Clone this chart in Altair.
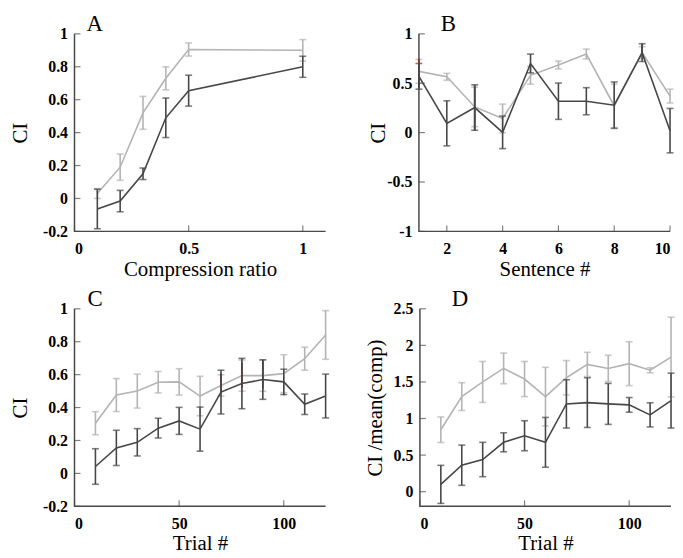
import altair as alt
import pandas as pd

# ---------------- data ----------------
# Panel A
a_x = [0.1, 0.2, 0.3, 0.4, 0.5, 1.0]
a_light = [0.03, 0.19, 0.52, 0.73, 0.905, 0.90]
a_light_err = [0.03, 0.08, 0.10, 0.07, 0.04, 0.065]
a_dark = [-0.064, -0.016, 0.15, 0.49, 0.655, 0.80]
a_dark_err = [0.12, 0.065, 0.035, 0.12, 0.094, 0.064]

# Panel B
b_x = [1, 2, 3, 4, 5, 6, 7, 8, 9, 10]
b_light = [0.62, 0.565, 0.26, 0.144, 0.58, 0.685, 0.796, 0.27, 0.81, 0.37]
b_light_err = [0.12, 0.035, 0.2, 0.145, 0.09, 0.04, 0.05, 0.22, 0.06, 0.07]
b_dark = [0.57, 0.094, 0.254, 0.003, 0.70, 0.318, 0.318, 0.278, 0.81, 0.02]
b_dark_err = [0.13, 0.228, 0.23, 0.165, 0.095, 0.184, 0.137, 0.235, 0.09, 0.225]
b_red_x = [1, 3, 9]
b_red_lo = [0.46, 0.02, 0.81]
b_red_hi = [0.75, 0.48, 0.90]

# Panel C
c_x = [10, 20, 30, 40, 50, 60, 70, 80, 90, 100, 110, 120]
c_light = [0.305, 0.476, 0.50, 0.554, 0.556, 0.47, 0.534, 0.594, 0.594, 0.606, 0.697, 0.841]
c_light_err = [0.07, 0.10, 0.103, 0.065, 0.08, 0.12, 0.065, 0.095, 0.095, 0.115, 0.07, 0.148]
c_dark = [0.042, 0.155, 0.189, 0.275, 0.319, 0.269, 0.494, 0.546, 0.57, 0.556, 0.42, 0.47]
c_dark_err = [0.108, 0.107, 0.083, 0.06, 0.082, 0.134, 0.133, 0.153, 0.12, 0.077, 0.062, 0.133]
c_red_x = [70, 80, 90, 100]
c_red_lo = [0.49, 0.52, 0.515, 0.475]
c_red_hi = [0.607, 0.67, 0.685, 0.485]

# Panel D
d_x = [10, 20, 30, 40, 50, 60, 70, 80, 90, 100, 110, 120]
d_light = [0.847, 1.30, 1.50, 1.685, 1.54, 1.30, 1.558, 1.74, 1.685, 1.75, 1.66, 1.84]
d_light_err = [0.175, 0.19, 0.28, 0.21, 0.24, 0.40, 0.235, 0.165, 0.18, 0.30, 0.035, 0.545]
d_dark = [0.10, 0.362, 0.44, 0.675, 0.765, 0.675, 1.20, 1.218, 1.20, 1.187, 1.05, 1.245]
d_dark_err = [0.26, 0.275, 0.235, 0.13, 0.205, 0.34, 0.33, 0.34, 0.28, 0.10, 0.165, 0.375]

# ---------------- style ----------------
W, H = 253, 199
FONT = "Liberation Serif"
DARK = "#474747"
LIGHT = "#b4b4b4"
RED = "#9a2626"
AXC = "#4a4a4a"
LABEL_EXPR = "datum.value < 0 ? '-' + format(-datum.value, '') : format(datum.value, '')"


def errdf(xs, ys, errs):
    return pd.DataFrame({
        "x": xs, "y": ys,
        "lo": [y - e for y, e in zip(ys, errs)],
        "hi": [y + e for y, e in zip(ys, errs)],
    })


def axis(values, title, extent, tpad, lpad):
    return alt.Axis(values=values, title=title, labelExpr=LABEL_EXPR,
                    minExtent=extent, maxExtent=extent, titlePadding=tpad,
                    domain=False, ticks=False, grid=False, labelPadding=lpad,
                    zindex=0,
                    labelFont=FONT, labelFontSize=16, labelFontWeight="bold",
                    labelColor="#000", titleFont=FONT, titleFontSize=21,
                    titleFontWeight="normal", titleColor="#000")


def panel(letter, title_dx, xs, light, light_err, dark, dark_err,
          xdom, ydom, xticks, yticks, xtitle, ytitle, y_extent, y_tpad,
          red=None):
    xaxis = axis(xticks, xtitle, 26, 1, 9)
    yaxis = axis(yticks, ytitle, y_extent, y_tpad, 7)
    xs_ = alt.Scale(domain=xdom, nice=False, zero=False)
    ys_ = alt.Scale(domain=ydom, nice=False, zero=False)

    def X(f="x"):
        return alt.X(f + ":Q", scale=xs_, axis=xaxis)

    def Y(f="y"):
        return alt.Y(f + ":Q", scale=ys_, axis=yaxis)

    layers = []

    # axis frame (left and bottom) drawn as a line through three corner points
    frame = pd.DataFrame({"x": [xdom[0], xdom[0], xdom[1]],
                          "y": [ydom[1], ydom[0], ydom[0]],
                          "k": [0, 1, 2]})
    layers.append(alt.Chart(frame).mark_line(color=AXC, strokeWidth=1.5).encode(
        x=X(), y=Y(), order="k:Q"))

    def add_series(df, color):
        layers.append(alt.Chart(df).mark_line(color=color, strokeWidth=1.6).encode(x=X(), y=Y()))
        layers.append(alt.Chart(df).mark_rule(color=color, strokeWidth=1.6).encode(
            x=X(), y=Y("lo"), y2="hi:Q"))
        for f in ["lo", "hi"]:
            layers.append(alt.Chart(df).mark_tick(color=color, orient="horizontal",
                                                  size=7, thickness=1.6).encode(
                x=X(), y=Y(f)))

    add_series(errdf(xs, light, light_err), LIGHT)
    if red is not None:
        rdf = pd.DataFrame({"x": red[0], "lo": red[1], "hi": red[2]})
        layers.append(alt.Chart(rdf).mark_rule(color=RED, strokeWidth=1.8).encode(
            x=X(), y=Y("lo"), y2="hi:Q"))
    add_series(errdf(xs, dark, dark_err), DARK)

    # inward ticks
    xt = pd.DataFrame({"x": xticks, "y": [ydom[0]] * len(xticks)})
    layers.append(alt.Chart(xt).mark_tick(color=AXC, orient="vertical", size=6,
                                          thickness=1.2, yOffset=-3).encode(x=X(), y=Y()))
    yt = pd.DataFrame({"y": yticks, "x": [xdom[0]] * len(yticks)})
    layers.append(alt.Chart(yt).mark_tick(color=AXC, orient="horizontal", size=6,
                                          thickness=1.2, xOffset=3).encode(x=X(), y=Y()))

    return alt.layer(*layers).properties(
        width=W, height=H,
        title=alt.TitleParams(text=letter, anchor="start", dx=title_dx,
                              frame="group", offset=-10,
                              fontSize=23, font=FONT, fontWeight="normal",
                              color="#000"))


pa = panel("A", 12, a_x, a_light, a_light_err, a_dark, a_dark_err,
           [0, 1.1], [-0.2, 1], [0, 0.5, 1], [-0.2, 0, 0.2, 0.4, 0.6, 0.8, 1],
           "Compression ratio", "CI", 37, 7)
pb = panel("B", 22, b_x, b_light, b_light_err, b_dark, b_dark_err,
           [1, 10], [-1, 1], [2, 4, 6, 8, 10], [-1, -0.5, 0, 0.5, 1],
           "Sentence #", "CI", 30, 1, red=(b_red_x, b_red_lo, b_red_hi))
pc = panel("C", 13, c_x, c_light, c_light_err, c_dark, c_dark_err,
           [0, 120], [-0.2, 1], [0, 50, 100], [-0.2, 0, 0.2, 0.4, 0.6, 0.8, 1],
           "Trial #", "CI", 37, 7, red=(c_red_x, c_red_lo, c_red_hi))
pd_ = panel("D", 32, d_x, d_light, d_light_err, d_dark, d_dark_err,
            [0, 120], [-0.2, 2.5], [0, 50, 100], [0, 0.5, 1, 1.5, 2, 2.5],
            "Trial #", "CI /mean(comp)", 31, 4)

row1 = alt.hconcat(pa, pb, spacing=39)
row2 = alt.hconcat(pc, pd_, spacing=35)

chart = alt.vconcat(row1, row2, spacing=9).properties(
    padding={"top": 3, "left": 2, "right": 0, "bottom": 0}
).configure_view(stroke=None)

chart.save("out.html", embed_options={"renderer": "svg", "actions": False})
